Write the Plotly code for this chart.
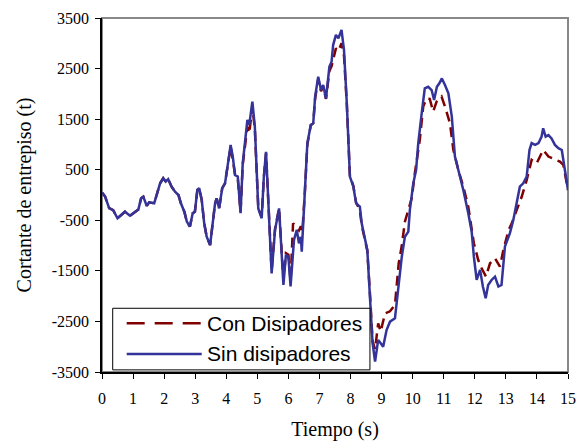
import plotly.graph_objects as go

# Sin disipadores (blue, solid)
t_sin = [0.00, 0.10, 0.23, 0.36, 0.50, 0.61, 0.74, 0.90, 1.06, 1.17, 1.26, 1.33, 1.44, 1.52, 1.68, 1.76,
         1.87, 1.97, 2.05, 2.13, 2.24, 2.35, 2.46, 2.54, 2.65, 2.73, 2.83, 2.92, 2.99, 3.07, 3.13, 3.21,
         3.29, 3.37, 3.48, 3.55, 3.64, 3.69, 3.77, 3.87, 3.96, 4.04, 4.14, 4.21, 4.28, 4.37, 4.46, 4.53,
         4.60, 4.68, 4.74, 4.84, 4.92, 5.03, 5.14, 5.21, 5.28, 5.35, 5.46, 5.57, 5.70, 5.84, 5.92, 6.00,
         6.07, 6.18, 6.27, 6.34, 6.40, 6.43, 6.53, 6.61, 6.72, 6.80, 6.86, 6.96, 7.05, 7.12, 7.21, 7.32,
         7.39, 7.44, 7.53, 7.61, 7.71, 7.79, 7.88, 7.98, 8.09, 8.18, 8.30, 8.36, 8.46, 8.54, 8.63, 8.71,
         8.79, 8.89, 8.97, 9.05, 9.16, 9.27, 9.43, 9.54, 9.65, 9.75, 9.86, 9.91, 10.02, 10.11, 10.18, 10.29,
         10.39, 10.50, 10.61, 10.69, 10.78, 10.86, 10.94, 11.04, 11.15, 11.26, 11.36, 11.47, 11.63, 11.79,
         11.90, 11.97, 12.06, 12.17, 12.26, 12.35, 12.43, 12.54, 12.65, 12.76, 12.86, 12.97, 13.13, 13.24,
         13.35, 13.45, 13.56, 13.67, 13.76, 13.83, 13.94, 14.05, 14.15, 14.20, 14.28, 14.37, 14.47, 14.58,
         14.69, 14.80, 14.90, 15.00]
v_sin = [50, -30, -260, -300, -460, -395, -330, -410, -330, -285, -65, -35, -215, -145, -165, 0,
         230, 330, 265, 315, 165, 65, 0, -165, -330, -525, -625, -360, -330, 100, 135, -100,
         -560, -825, -990, -625, -165, -65, -265, 135, 230, 560, 990, 760, 395, 365, -360, 625,
         1025, 1485, 1385, 1846, 1350, -265, -460, 365, 855, -35, -1550, -690, -265, -1780, -1185, -1220,
         -1810, -890, -690, -955, -825, -1120, 65, 1025, 1385, 1420, 1945, 2340, 2075, 2175, 1910, 2540,
         2635, 2965, 3165, 3100, 3265, 2865, 1815, 365, 165, -165, -230, -560, -855, -1085, -2075, -2930,
         -3295, -2865, -2930, -3000, -2670, -2505, -2440, -1810, -1220, -825, -725, -295, 230, 495, 1025, 1615,
         2110, 2140, 2075, 1880, 2140, 2210, 2305, 2175, 2010, 1550, 760, 495, 100, -360,
         -725, -1220, -1680, -1480, -1810, -2040, -1780, -1680, -1615, -1810, -1780, -1020, -755, -495,
         -165, 165, 230, 365, 890, 1025, 990, 1025, 1155, 1320, 1155, 1185, 1120, 990,
         925, 890, 495, 100]

# Con Disipadores (dark red, dashed)
t_con = [0.00, 0.10, 0.23, 0.36, 0.50, 0.61, 0.74, 0.90, 1.06, 1.17, 1.26, 1.33, 1.44, 1.52, 1.68, 1.76,
         1.87, 1.97, 2.05, 2.13, 2.24, 2.35, 2.46, 2.54, 2.65, 2.73, 2.83, 2.92, 2.99, 3.07, 3.13, 3.21,
         3.29, 3.37, 3.48, 3.55, 3.64, 3.69, 3.77, 3.87, 3.96, 4.04, 4.14, 4.21, 4.28, 4.37, 4.46, 4.53,
         4.60, 4.68, 4.74, 4.84, 4.92, 5.03, 5.14, 5.21, 5.28, 5.35, 5.46, 5.57, 5.70, 5.84, 5.92, 6.00,
         6.07, 6.15, 6.27, 6.34, 6.40, 6.45, 6.53, 6.61, 6.72, 6.80, 6.86, 6.96, 7.05, 7.12, 7.21, 7.32,
         7.39, 7.44, 7.53, 7.61, 7.71, 7.79, 7.88, 7.98, 8.09, 8.18, 8.30, 8.36, 8.46, 8.54, 8.63, 8.71,
         8.79, 8.89, 8.97, 9.11, 9.27, 9.43, 9.55, 9.65, 9.75, 9.86, 9.97, 10.07, 10.23, 10.34, 10.45, 10.55,
         10.66, 10.77, 10.93, 11.04, 11.20, 11.31, 11.47, 11.63, 11.79, 11.97, 12.11, 12.22, 12.36, 12.49,
         12.65, 12.81, 12.92, 13.09, 13.19, 13.35, 13.51, 13.67, 13.83, 13.99, 14.20, 14.37, 14.58, 14.74,
         14.85, 15.00]
v_con = [50, -30, -260, -300, -460, -395, -330, -410, -330, -285, -65, -35, -215, -145, -165, 0,
         230, 330, 265, 315, 165, 65, 0, -165, -330, -525, -625, -360, -330, 100, 135, -100,
         -560, -825, -990, -625, -165, -65, -265, 135, 230, 560, 950, 700, 420, 330, -330, 600,
         1000, 1350, 1220, 1750, 1300, -250, -440, 350, 830, -30, -1500, -670, -260, -1700, -1150, -1180,
         -1700, -560, -650, -700, -620, -720, 60, 1000, 1380, 1420, 1900, 2300, 2050, 2150, 1900, 2450,
         2550, 2700, 2900, 2850, 3000, 2750, 1800, 380, 180, -150, -300, -600, -900, -1100, -2000, -2900,
         -3050, -2540, -2700, -2340, -2300, -2175, -1350, -1000, -527, -300, -65, 430, 1090, 1750, 1910, 1900,
         1650, 1845, 1945, 1750, 1420, 890, 495, 165, -230, -955, -1285, -1450, -1615, -1350,
         -1250, -1415, -1085, -690, -560, -295, -35, 295, 695, 625, 890, 760, 695, 660,
         595, 100]

x_ticks = list(range(0, 16))
y_ticks = [-3500, -2500, -1500, -500, 500, 1500, 2500, 3500]

RED = "#800000"
BLUE = "#333399"
SERIF = "Liberation Serif, Times New Roman, serif"
SANS = "Liberation Sans, Arial, sans-serif"

fig = go.Figure()
fig.add_trace(go.Scatter(x=t_con, y=v_con, mode="lines", name="Con Disipadores",
                         line=dict(color=RED, width=2.5, dash="10px,6px"), showlegend=False))
fig.add_trace(go.Scatter(x=t_sin, y=v_sin, mode="lines", name="Sin disipadores",
                         line=dict(color=BLUE, width=2.5), showlegend=False))

# plot-area border (grey) on top/right
fig.add_shape(type="rect", xref="paper", yref="paper", x0=0, y0=0, x1=1, y1=1,
              line=dict(color="#888888", width=2), layer="below")

# custom legend (box, long line samples, labels)
fig.add_shape(type="rect", xref="paper", yref="paper", x0=0.023, x1=0.575, y0=0.006, y1=0.18,
              line=dict(color="black", width=1), fillcolor="white", layer="above")
fig.add_shape(type="line", xref="paper", yref="paper", x0=0.053, x1=0.214, y0=0.1376, y1=0.1376,
              line=dict(color=RED, width=2.5, dash="18px,10px"), layer="above")
fig.add_shape(type="line", xref="paper", yref="paper", x0=0.053, x1=0.214, y0=0.051, y1=0.051,
              line=dict(color=BLUE, width=2.5), layer="above")
fig.add_annotation(xref="paper", yref="paper", x=0.221, y=0.1376, text="Con Disipadores",
                   showarrow=False, xanchor="left", yanchor="middle",
                   font=dict(family=SANS, size=21, color="black"))
fig.add_annotation(xref="paper", yref="paper", x=0.221, y=0.051, text="Sin disipadores",
                   showarrow=False, xanchor="left", yanchor="middle",
                   font=dict(family=SANS, size=21, color="black"))

fig.update_layout(
    width=583, height=445,
    margin=dict(l=102, r=15, t=18, b=73, autoexpand=False),
    paper_bgcolor="white", plot_bgcolor="white",
    font=dict(family=SERIF, size=16, color="black"),
    xaxis=dict(range=[0, 15], tickmode="array", tickvals=x_ticks, ticktext=[str(v) for v in x_ticks],
               showgrid=False, zeroline=False, showline=True, linecolor="black", linewidth=1.5,
               ticks="outside", ticklen=5, tickcolor="black", tickwidth=1, ticklabelstandoff=6,
               tickfont=dict(family=SERIF, size=16),
               title=dict(text="Tiempo (s)", standoff=16, font=dict(family=SERIF, size=20))),
    yaxis=dict(range=[-3500, 3500], tickmode="array", tickvals=y_ticks, ticktext=[str(v) for v in y_ticks],
               showgrid=False, zeroline=False, showline=True, linecolor="black", linewidth=1.5,
               ticks="outside", ticklen=5, tickcolor="black", tickwidth=1, ticklabelstandoff=3,
               tickfont=dict(family=SERIF, size=16),
               title=dict(text="Cortante de entrepiso (t)", standoff=15, font=dict(family=SERIF, size=20))),
)

fig.write_html("out.html", config={"displayModeBar": False},
               post_script="document.body.style.margin='0';")
